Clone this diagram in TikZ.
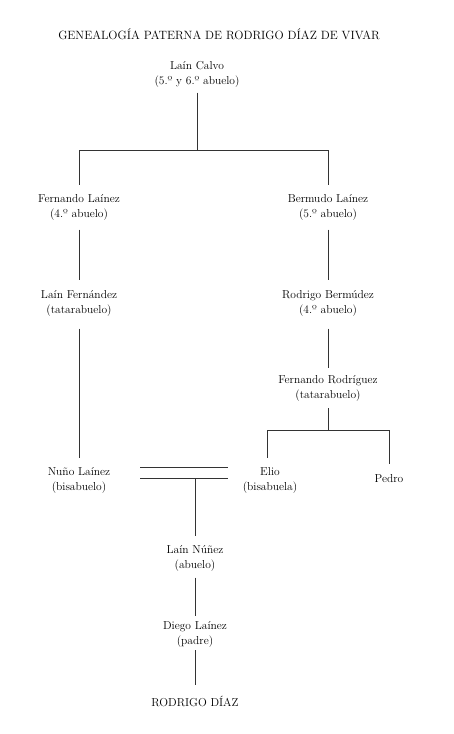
\documentclass[tikz,border=0pt]{standalone}
\usepackage{fontspec}
\begin{document}
\begin{tikzpicture}[x=1pt,y=-1pt,
  person/.style={align=center,inner sep=0pt,font=\fontsize{11.5}{15}\selectfont},
  conn/.style={draw=black!80,line width=0.7pt}]
\useasboundingbox (0,0) rectangle (453,734);
% title
\node[inner sep=0pt,font=\fontsize{12}{14}\selectfont] (title) at (219,34) {GENEALOGÍA PATERNA DE RODRIGO DÍAZ DE VIVAR};
% persons
\node[person] (lc) at (197,74.5) {Laín Calvo\\(5.º y 6.º abuelo)};
\node[person] (fl) at (79,207.5) {Fernando Laínez\\(4.º abuelo)};
\node[person] (bl) at (328,207.5) {Bermudo Laínez\\(5.º abuelo)};
\node[person] (lf) at (79,303.5) {Laín Fernández\\(tatarabuelo)};
\node[person] (rb) at (328,303.5) {Rodrigo Bermúdez\\(4.º abuelo)};
\node[person] (fr) at (328,388) {Fernando Rodríguez\\(tatarabuelo)};
\node[person] (nl) at (79,480) {Nuño Laínez\\(bisabuelo)};
\node[person] (el) at (270,480) {Elio\\(bisabuela)};
\node[person] (pe) at (389,479) {Pedro};
\node[person] (ln) at (195,558.5) {Laín Núñez\\(abuelo)};
\node[person] (dl) at (195,634) {Diego Laínez\\(padre)};
\node[person] (rd) at (195,701) {RODRIGO DÍAZ};
% junctions
\coordinate (j1) at (197,150);
\coordinate (jl) at (79,150);
\coordinate (jr) at (328,150);
\coordinate (j2) at (328,430);
\coordinate (je) at (267,430);
\coordinate (jp) at (389,430);
\coordinate (m1) at (140,467);
\coordinate (m2) at (228,467);
\coordinate (m3) at (140,478);
\coordinate (m4) at (228,478);
\coordinate (mc) at (195,478);
% connectors
\draw[conn,shorten <=5pt] (lc.south) -- (j1);
\draw[conn] (jl) -- (jr);
\draw[conn,shorten >=9pt] (jl) -- (fl.north);
\draw[conn,shorten >=9pt] (jr) -- (bl.north);
\draw[conn,shorten <=9pt,shorten >=10pt] (fl.south) -- (lf.north);
\draw[conn,shorten <=9pt,shorten >=10pt] (bl.south) -- (rb.north);
\draw[conn,shorten <=12pt,shorten >=9pt] (lf.south) -- (nl.north);
\draw[conn,shorten <=12pt,shorten >=7pt] (rb.south) -- (fr.north);
\draw[conn,shorten <=7pt] (fr.south) -- (j2);
\draw[conn] (je) -- (jp);
\draw[conn,shorten >=9pt] (je) -- (je |- el.north);
\draw[conn,shorten >=11pt] (jp) -- (pe.north);
\draw[conn] (m1) -- (m2);
\draw[conn] (m3) -- (m4);
\draw[conn,shorten >=9pt] (mc) -- (ln.north);
\draw[conn,shorten <=6pt,shorten >=5pt] (ln.south) -- (dl.north);
\draw[conn,shorten <=3pt,shorten >=10pt] (dl.south) -- (rd.north);
\end{tikzpicture}
\end{document}
